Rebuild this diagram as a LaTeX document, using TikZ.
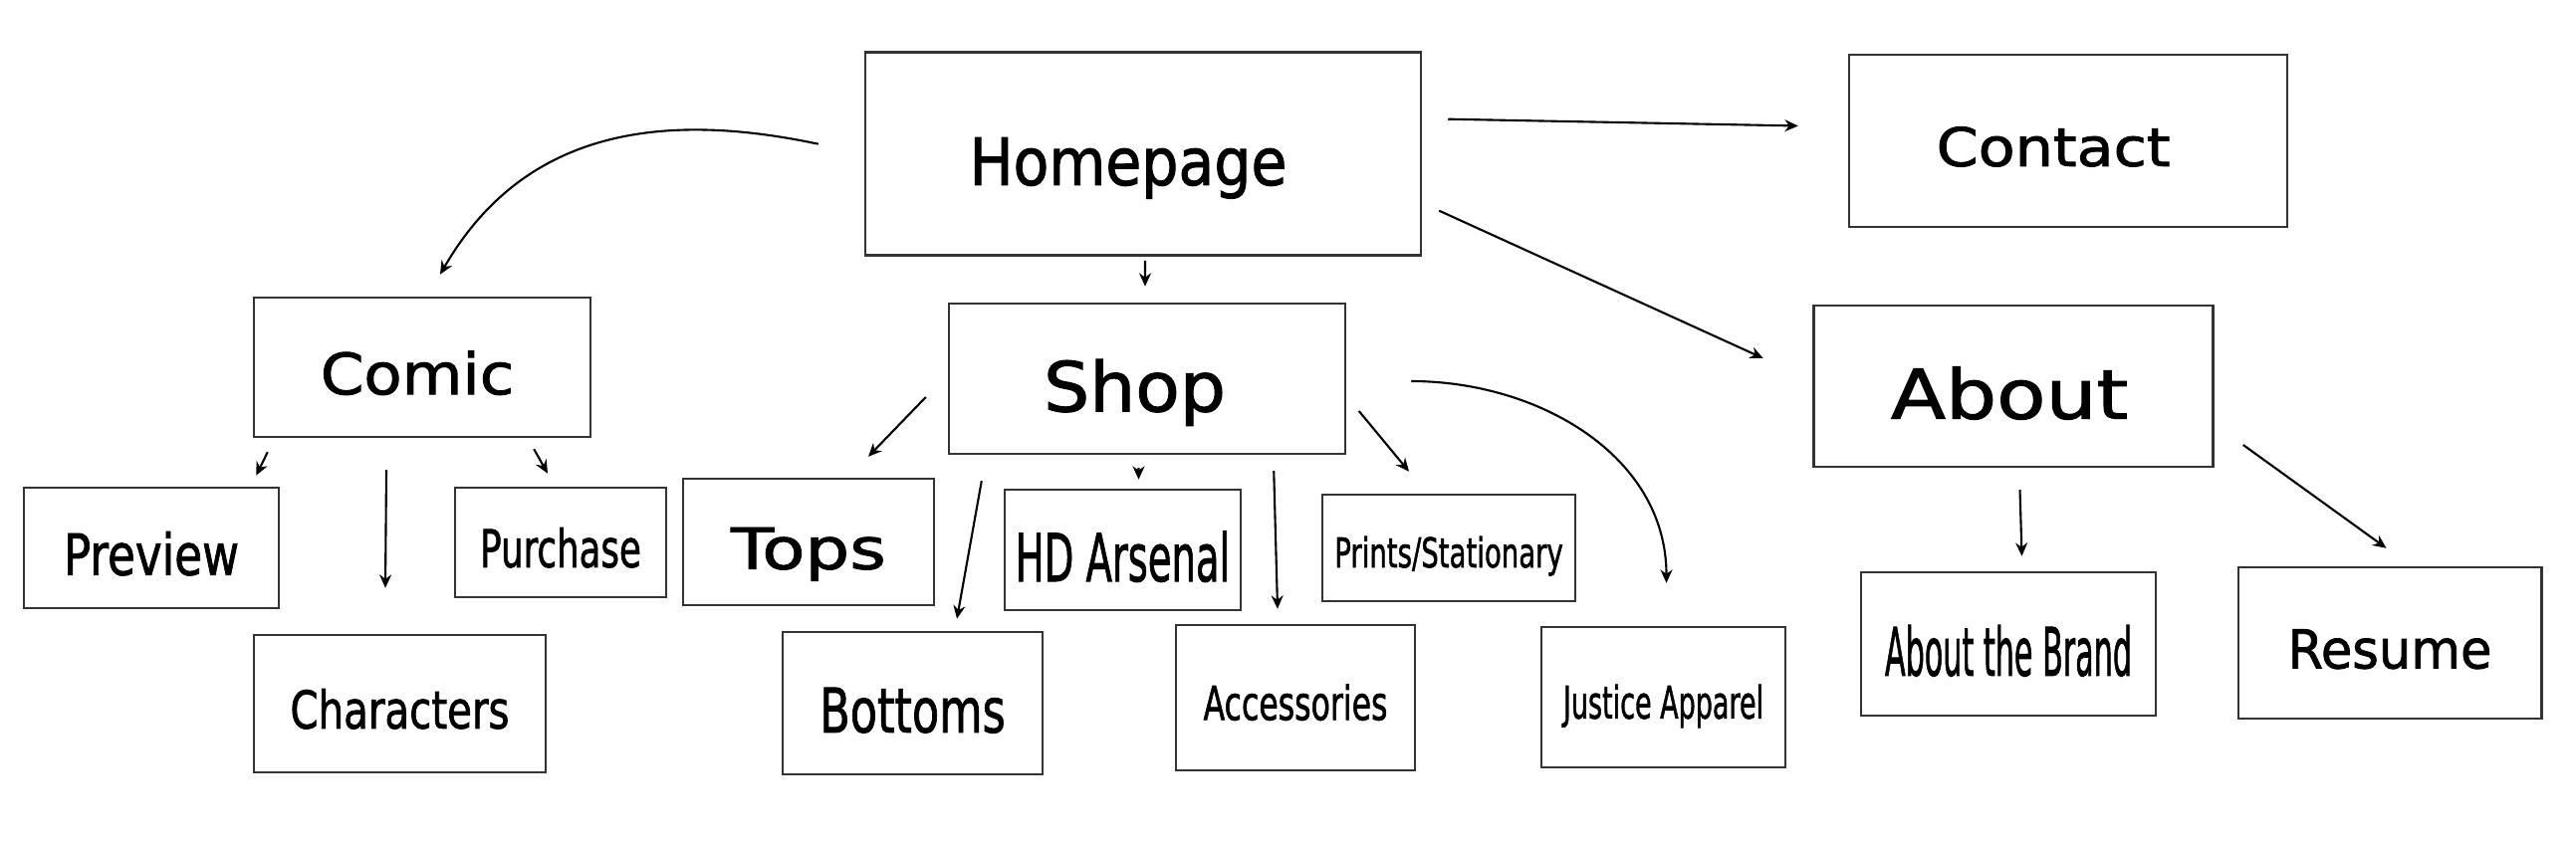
\documentclass[tikz,border=0pt]{standalone}
\usepackage{fontspec}
\setmainfont{DejaVu Sans}[FakeBold=1.5]
\usepackage{graphicx}
\usetikzlibrary{arrows.meta}
\newcommand{\fs}[1]{\fontsize{#1}{#1}\selectfont}
\newcommand{\sq}[3][0pt]{\raisebox{0pt}[0.95em][0pt]{\scalebox{#2}[1]{#3}}\kern#1}

\begin{document}
\begin{tikzpicture}[
    page/.style={draw=black!80, line width=0.7pt, inner sep=0pt, align=center},
    arr/.style={-{Stealth[length=3.8pt, width=3.4pt]}, line width=0.6pt},
  ]
    \useasboundingbox (0,0) rectangle (25.87,-8.47);
    % top level
    \node[page, minimum width=5.58cm, minimum height=2.04cm, font=\fs{18.7pt}] (home) at (11.48,-1.547) {\sq[0.3cm]{0.89}{Homepage}};
    \node[page, minimum width=4.40cm, minimum height=1.73cm, font=\fs{15.2pt}] (contact) at (20.77,-1.415) {\sq[0.3cm]{1.13}{Contact}};
    \node[page, minimum width=3.38cm, minimum height=1.40cm, font=\fs{16.3pt}] (comic) at (4.24,-3.69) {\sq[0.1cm]{1.09}{Comic}};
    \node[page, minimum width=3.98cm, minimum height=1.51cm, font=\fs{19.7pt}] (shop) at (11.52,-3.805) {\sq[0.25cm]{1.05}{Shop}};
    \node[page, minimum width=4.01cm, minimum height=1.62cm, font=\fs{19.6pt}] (about) at (20.22,-3.88) {\sq[0.08cm]{1.17}{About}};
    % comic pages
    \node[page, minimum width=2.56cm, minimum height=1.21cm, font=\fs{16.3pt}] (preview) at (1.52,-5.505) {\sq{0.79}{Preview}};
    \node[page, minimum width=2.12cm, minimum height=1.10cm, font=\fs{14.9pt}] (purchase) at (5.63,-5.45) {\sq{0.68}{Purchase}};
    \node[page, minimum width=2.93cm, minimum height=1.38cm, font=\fs{14.9pt}] (characters) at (4.015,-7.07) {\sq{0.77}{Characters}};
    % shop pages
    \node[page, minimum width=2.52cm, minimum height=1.27cm, font=\fs{16.3pt}] (tops) at (8.12,-5.445) {\sq{1.23}{Tops}};
    \node[page, minimum width=2.61cm, minimum height=1.43cm, font=\fs{17.6pt}] (bottoms) at (9.165,-7.065) {\sq{0.72}{Bottoms}};
    \node[page, minimum width=2.37cm, minimum height=1.21cm, font=\fs{18.9pt}] (arsenal) at (11.275,-5.525) {\sq{0.58}{HD Arsenal}};
    \node[page, minimum width=2.40cm, minimum height=1.46cm, font=\fs{13.4pt}] (accessories) at (13.01,-7.01) {\sq{0.67}{Accessories}};
    \node[page, minimum width=2.54cm, minimum height=1.07cm, font=\fs{11.7pt}] (prints) at (14.55,-5.505) {\sq{0.67}{Prints/Stationary}};
    \node[page, minimum width=2.45cm, minimum height=1.41cm, font=\fs{12.8pt}] (justice) at (16.705,-7.005) {\sq{0.60}{Justice Apparel}};
    % about pages
    \node[page, minimum width=2.96cm, minimum height=1.44cm, font=\fs{19.1pt}] (brand) at (20.17,-6.47) {\sq{0.45}{About the Brand}};
    \node[page, minimum width=3.045cm, minimum height=1.52cm, font=\fs{15.3pt}] (resume) at (24.00,-6.46) {\sq{0.95}{Resume}};
    % links
    \draw[arr] ([shift={(0.26,0.35)}]home.east) -- ([shift={(-0.50,0.15)}]contact.west);
    \draw[arr] ([shift={(0.17,-0.57)}]home.east) -- ([shift={(-0.495,0.28)}]about.west);
    \draw[arr] ([shift={(0.02,-0.04)}]home.south) -- ([shift={(-0.02,0.16)}]shop.north);
    \draw[arr] ([shift={(-0.46,0.10)}]home.west) to[out=168, in=60, looseness=1.05] ([shift={(0.18,0.22)}]comic.north);
    \draw[arr] ([shift={(0.15,-0.14)}]comic.south west) -- ([shift={(-0.24,0.11)}]preview.north east);
    \draw[arr] ([shift={(-0.36,-0.32)}]comic.south) -- ([shift={(-0.145,0.46)}]characters.north);
    \draw[arr] ([shift={(-0.58,-0.11)}]comic.south east) -- ([shift={(-0.13,0.13)}]purchase.north);
    \draw[arr] ([shift={(-0.22,-0.185)}]shop.west) -- ([shift={(0.60,0.21)}]tops.north);
    \draw[arr] ([shift={(0.34,-0.26)}]shop.south west) -- ([shift={(0.445,0.12)}]bottoms.north);
    \draw[arr] ([shift={(-0.085,-0.13)}]shop.south) -- ([shift={(0.16,0.09)}]arsenal.north);
    \draw[arr] ([shift={(-0.73,-0.16)}]shop.south east) -- ([shift={(-0.18,0.15)}]accessories.north);
    \draw[arr] ([shift={(0.125,-0.325)}]shop.east) -- ([shift={(-0.40,0.22)}]prints.north);
    \draw[arr] ([shift={(0.65,-0.025)}]shop.east) to[out=0, in=90] ([shift={(0.03,0.43)}]justice.north);
    \draw[arr] ([shift={(0.065,-0.22)}]about.south) -- ([shift={(0.135,0.15)}]brand.north);
    \draw[arr] ([shift={(0.29,-0.59)}]about.east) -- ([shift={(-0.035,0.18)}]resume.north);
  \end{tikzpicture}
\end{document}
